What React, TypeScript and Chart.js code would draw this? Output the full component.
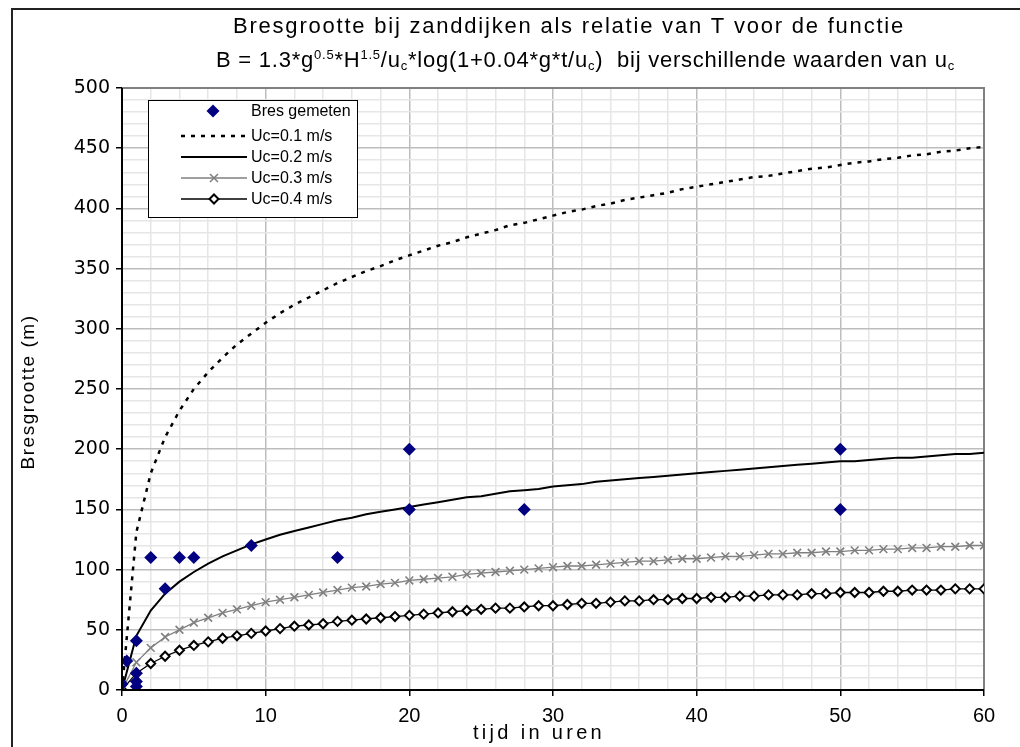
import React, { useEffect, useRef } from "react";
import { Chart, registerables } from "chart.js";

Chart.register(...registerables);

const hours = [
  0, 1, 2, 3, 4, 5, 6, 7, 8, 9, 10, 11, 12, 13, 14, 15, 16, 17, 18, 19, 20,
  21, 22, 23, 24, 25, 26, 27, 28, 29, 30, 31, 32, 33, 34, 35, 36, 37, 38, 39, 40,
  41, 42, 43, 44, 45, 46, 47, 48, 49, 50, 51, 52, 53, 54, 55, 56, 57, 58, 59, 60,
];

const uc01 = [
  0, 131, 180, 210, 232, 250, 264, 276, 287, 296, 305, 313, 320, 326, 332, 338,
  343, 348, 352, 357, 361, 365, 369, 372, 376, 379, 382, 386, 388, 391, 394,
  397, 399, 402, 404, 407, 409, 411, 413, 416, 418, 420, 422, 424, 426, 427,
  429, 431, 433, 434, 436, 438, 439, 441, 442, 444, 445, 447, 448, 450, 451,
];

const uc02 = [
  0, 45, 66, 80, 90, 98, 105, 111, 116, 121, 125, 129, 132, 135, 138, 141, 143,
  146, 148, 150, 152, 154, 156, 158, 160, 161, 163, 165, 166, 167, 169, 170,
  171, 173, 174, 175, 176, 177, 178, 179, 180, 181, 182, 183, 184, 185, 186,
  187, 188, 189, 190, 190, 191, 192, 193, 193, 194, 195, 196, 196, 197,
];

const uc03 = [
  0, 23, 35, 44, 50, 56, 60, 64, 67, 70, 73, 75, 77, 79, 81, 83, 85, 86, 88, 89,
  91, 92, 93, 94, 96, 97, 98, 99, 100, 101, 102, 103, 103, 104, 105, 106, 107,
  107, 108, 109, 109, 110, 111, 111, 112, 113, 113, 114, 114, 115, 115, 116,
  116, 117, 117, 118, 118, 119, 119, 120, 120,
];

const uc04 = [
  0, 14, 22, 28, 33, 37, 40, 43, 45, 47, 49, 51, 53, 54, 55, 57, 58, 59, 60, 61,
  62, 63, 64, 65, 66, 67, 68, 68, 69, 70, 70, 71, 72, 72, 73, 74, 74, 75, 75,
  76, 76, 77, 77, 78, 78, 79, 79, 79, 80, 80, 81, 81, 81, 82, 82, 83, 83, 83,
  84, 84, 84,
];

const measuredT = [0, 0.33, 1, 1, 1, 1, 2, 3, 4, 5, 9, 15, 20, 20, 28, 50, 50];
const measuredB = [5, 24, 41, 14, 7, 3, 110, 84, 110, 110, 120, 110, 200, 150, 150, 200, 150];

const seriesLabels = ["Bres gemeten", "Uc=0.1 m/s", "Uc=0.2 m/s", "Uc=0.3 m/s", "Uc=0.4 m/s"];
const titleLine1 = "Bresgrootte bij zanddijken als relatie van T voor de functie";
const titleLine2: [string, string][] = [
  ["n", "B = 1.3*g"],
  ["sup", "0.5"],
  ["n", "*H"],
  ["sup", "1.5"],
  ["n", "/u"],
  ["sub", "c"],
  ["n", "*log(1+0.04*g*t/u"],
  ["sub", "c"],
  ["n", ")  bij verschillende waarden van u"],
  ["sub", "c"],
];
const xTitle = "tijd in uren";
const yTitle = "Bresgrootte (m)";

const NAVY = "#000080";
const GRAY = "#808080";
const FONT = "'Liberation Sans', Arial, sans-serif";

function spacedText(ctx: CanvasRenderingContext2D, text: string, x: number, y: number, targetWidth: number, align: "left" | "center") {
  const w = ctx.measureText(text).width;
  const n = Math.max(1, text.length);
  const extra = (targetWidth - w) / n;
  let sx = align === "center" ? x - targetWidth / 2 : x;
  ctx.textAlign = "left";
  for (const ch of text) {
    ctx.fillText(ch, sx, y);
    sx += ctx.measureText(ch).width + extra;
  }
}

const decorPlugin = {
  id: "decor",
  beforeDraw(chart: any) {
    const { ctx } = chart;
    ctx.save();
    ctx.fillStyle = "#ffffff";
    ctx.fillRect(0, 0, chart.width, chart.height);
    ctx.restore();
  },
  beforeDatasetsDraw(chart: any) {
    const { ctx, chartArea } = chart;
    ctx.save();
    ctx.strokeStyle = GRAY;
    ctx.lineWidth = 2;
    ctx.beginPath();
    ctx.moveTo(chartArea.left, chartArea.top);
    ctx.lineTo(chartArea.right, chartArea.top);
    ctx.lineTo(chartArea.right, chartArea.bottom);
    ctx.stroke();
    ctx.restore();
  },
  afterDraw(chart: any) {
    const { ctx, chartArea } = chart;
    ctx.save();
    // outer frame
    ctx.strokeStyle = "#222";
    ctx.lineWidth = 2;
    ctx.beginPath();
    ctx.moveTo(12, 760);
    ctx.lineTo(12, 9);
    ctx.lineTo(1030, 9);
    ctx.stroke();

    ctx.fillStyle = "#000";
    ctx.textBaseline = "alphabetic";
    // title line 1
    ctx.font = `22px ${FONT}`;
    spacedText(ctx, titleLine1, 569, 33, 672, "center");

    // title line 2 rich text
    const normal = `22px ${FONT}`;
    const small = `13px ${FONT}`;
    let natural = 0;
    let chars = 0;
    for (const [t, s] of titleLine2) {
      ctx.font = t === "n" ? normal : small;
      natural += ctx.measureText(s).width;
      chars += s.length;
    }
    const extra = (739 - natural) / chars;
    let x = 216;
    for (const [t, s] of titleLine2) {
      ctx.font = t === "n" ? normal : small;
      const y = t === "sup" ? 59 : t === "sub" ? 70 : 67;
      for (const ch of s) {
        ctx.fillText(ch, x, y);
        x += ctx.measureText(ch).width + extra;
      }
    }

    // axis titles
    ctx.font = `20px ${FONT}`;
    spacedText(ctx, xTitle, 539, 739, 132, "center");
    ctx.save();
    ctx.translate(34, 392);
    ctx.rotate(-Math.PI / 2);
    ctx.font = `19px ${FONT}`;
    spacedText(ctx, yTitle, 0, 0, 155, "center");
    ctx.restore();

    // axis lines
    ctx.strokeStyle = "#000";
    ctx.lineWidth = 2;
    ctx.beginPath();
    ctx.moveTo(chartArea.left, chartArea.top);
    ctx.lineTo(chartArea.left, chartArea.bottom);
    ctx.lineTo(chartArea.right, chartArea.bottom);
    ctx.stroke();

    // legend
    const lx = 148, ly = 100, lw = 209, lh = 117;
    ctx.fillStyle = "#fff";
    ctx.fillRect(lx, ly, lw, lh);
    ctx.strokeStyle = "#000";
    ctx.lineWidth = 1;
    ctx.strokeRect(lx + 0.5, ly + 0.5, lw, lh);
    const rows = [111, 136, 157, 178, 199];
    ctx.font = `16px ${FONT}`;
    ctx.textBaseline = "middle";
    ctx.textAlign = "left";
    rows.forEach((ry, i) => {
      ctx.fillStyle = "#000";
      ctx.fillText(seriesLabels[i], 251, ry + 1);
      if (i === 0) {
        ctx.fillStyle = NAVY;
        ctx.beginPath();
        ctx.moveTo(213 - 6.5, ry);
        ctx.lineTo(213, ry - 6.5);
        ctx.lineTo(213 + 6.5, ry);
        ctx.lineTo(213, ry + 6.5);
        ctx.closePath();
        ctx.fill();
        return;
      }
      ctx.beginPath();
      ctx.moveTo(181, ry);
      ctx.lineTo(247, ry);
      if (i === 1) {
        ctx.setLineDash([4, 6]);
        ctx.strokeStyle = "#000";
        ctx.lineWidth = 2.5;
      } else if (i === 2) {
        ctx.strokeStyle = "#000";
        ctx.lineWidth = 2;
      } else if (i === 3) {
        ctx.strokeStyle = GRAY;
        ctx.lineWidth = 1.3;
      } else {
        ctx.strokeStyle = "#000";
        ctx.lineWidth = 1.3;
      }
      ctx.stroke();
      ctx.setLineDash([]);
      if (i === 3) {
        ctx.strokeStyle = GRAY;
        ctx.lineWidth = 1.6;
        ctx.beginPath();
        ctx.moveTo(214 - 4, ry - 4);
        ctx.lineTo(214 + 4, ry + 4);
        ctx.moveTo(214 + 4, ry - 4);
        ctx.lineTo(214 - 4, ry + 4);
        ctx.stroke();
      }
      if (i === 4) {
        ctx.fillStyle = "#fff";
        ctx.strokeStyle = "#000";
        ctx.lineWidth = 2;
        ctx.beginPath();
        ctx.moveTo(214 - 4.5, ry);
        ctx.lineTo(214, ry - 4.5);
        ctx.lineTo(214 + 4.5, ry);
        ctx.lineTo(214, ry + 4.5);
        ctx.closePath();
        ctx.fill();
        ctx.stroke();
      }
    });
    ctx.restore();
  },
};

function pts(ys: number[]) {
  return hours.map((h, i) => ({ x: h, y: ys[i] }));
}

export default function App() {
  const ref = useRef<HTMLCanvasElement | null>(null);
  useEffect(() => {
    if (!ref.current) return;
    const chart = new Chart(ref.current, {
      type: "scatter",
      data: {
        datasets: [
          {
            label: seriesLabels[0],
            data: measuredT.map((t, i) => ({ x: t, y: measuredB[i] })),
            pointStyle: "rectRot",
            pointRadius: 6.5,
            pointBackgroundColor: NAVY,
            pointBorderColor: NAVY,
            pointBorderWidth: 0,
            showLine: false,
          },
          {
            label: seriesLabels[1],
            data: pts(uc01),
            showLine: true,
            borderColor: "#000",
            borderWidth: 2.5,
            borderDash: [4, 6],
            pointRadius: 0,
          },
          {
            label: seriesLabels[2],
            data: pts(uc02),
            showLine: true,
            borderColor: "#000",
            borderWidth: 2,
            pointRadius: 0,
          },
          {
            label: seriesLabels[3],
            data: pts(uc03),
            showLine: true,
            borderColor: GRAY,
            borderWidth: 1.3,
            pointStyle: "crossRot",
            pointRadius: 5.5,
            pointBorderColor: GRAY,
            pointBorderWidth: 1.6,
          },
          {
            label: seriesLabels[4],
            data: pts(uc04),
            showLine: true,
            borderColor: "#000",
            borderWidth: 1.3,
            pointStyle: "rectRot",
            pointRadius: 4.5,
            pointBackgroundColor: "#fff",
            pointBorderColor: "#000",
            pointBorderWidth: 2,
          },
        ],
      },
      options: {
        animation: false,
        responsive: false,
        events: [],
        layout: { padding: { left: 0, top: 88, right: 36, bottom: 0 } },
        plugins: {
          legend: { display: false },
          title: { display: false },
          tooltip: { enabled: false },
        },
        scales: {
          x: {
            type: "linear",
            min: 0,
            max: 60,
            afterFit: (s: any) => {
              s.height = 57;
            },
            ticks: {
              stepSize: 2,
              autoSkip: false,
              maxRotation: 0,
              padding: 8,
              color: "#000",
              font: { family: FONT, size: 20 },
              callback: (v: any) => (Number(v) % 10 === 0 ? String(v) : ""),
            },
            grid: {
              color: (c: any) => (c.tick && c.tick.value % 10 === 0 ? "#bdbdbd" : "#e6e6e6"),
              lineWidth: 1.5,
              tickLength: 6,
              tickColor: (c: any) => (c.tick && c.tick.value % 10 === 0 ? "#000" : "rgba(0,0,0,0)"),
            },
            border: { display: false },
          },
          y: {
            min: 0,
            max: 500,
            afterFit: (s: any) => {
              s.width = 122;
            },
            ticks: {
              stepSize: 10,
              autoSkip: false,
              padding: 6,
              color: "#000",
              font: { family: "'DejaVu Sans', Verdana, sans-serif", size: 19 },
              callback: (v: any) => (Number(v) % 50 === 0 ? String(v) : ""),
            },
            grid: {
              color: (c: any) => (c.tick && c.tick.value % 50 === 0 ? "#bdbdbd" : "#e6e6e6"),
              lineWidth: 1.5,
              tickLength: 6,
              tickColor: (c: any) => (c.tick && c.tick.value % 50 === 0 ? "#000" : "rgba(0,0,0,0)"),
            },
            border: { display: false },
          },
        },
      },
      plugins: [decorPlugin],
    });
    return () => chart.destroy();
  }, []);
  return (
    <div style={{ position: "fixed", left: 0, top: 0, width: 1020, height: 747, overflow: "hidden", background: "#fff" }}>
      <canvas ref={ref} width={1020} height={747} style={{ width: 1020, height: 747, display: "block" }} />
    </div>
  );
}
